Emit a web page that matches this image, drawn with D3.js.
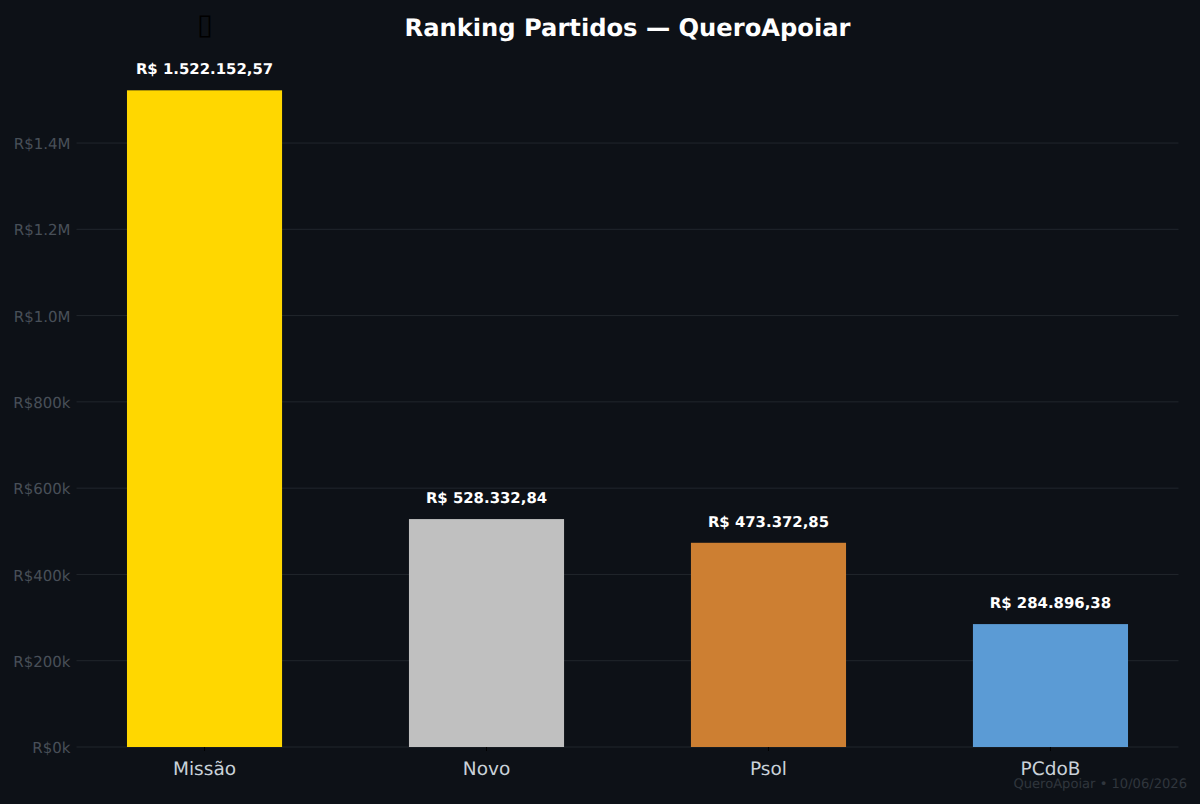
<!DOCTYPE html>
<html>
<head>
<meta charset="utf-8">
<script src="https://cdn.jsdelivr.net/npm/d3@7/dist/d3.min.js"></script>
<style>
html,body{margin:0;padding:0;background:#0d1117;}
svg{display:block;font-family:"DejaVu Sans",sans-serif;text-rendering:geometricPrecision;}
</style>
</head>
<body>
<svg id="chart" width="1200" height="804"></svg>
<script>
const parties = ["Missão", "Novo", "Psol", "PCdoB"];
const totals = [1522152.57, 528332.84, 473372.85, 284896.38];
const valueLabels = ["R$ 1.522.152,57", "R$ 528.332,84", "R$ 473.372,85", "R$ 284.896,38"];
const barColors = ["#FFD700", "#C0C0C0", "#CD7F32", "#5B9BD5"];
const yTicks = [0, 200000, 400000, 600000, 800000, 1000000, 1200000, 1400000];
const yTickLabels = ["R$0k", "R$200k", "R$400k", "R$600k", "R$800k", "R$1.0M", "R$1.2M", "R$1.4M"];
const titleText = "Ranking Partidos — QueroApoiar";
const footerText = "QueroApoiar • 10/06/2026";
const medalGlyph = "\u25AF";

const svg = d3.select("#chart");
const plot = {left: 76.5, right: 1178.5, top: 57.5, bottom: 747};

const x = d3.scaleBand().domain(parties).range([plot.left, plot.right])
  .paddingInner(0.45).paddingOuter(0.179);
const y = d3.scaleLinear().domain([0, 1598260]).range([plot.bottom, plot.top]);

// Horizontal grid
svg.append("g").selectAll("line").data(yTicks).join("line")
  .attr("x1", plot.left).attr("x2", plot.right)
  .attr("y1", d => y(d)).attr("y2", d => y(d))
  .attr("stroke", "#21262d").attr("stroke-width", 1);

// Y axis
const yAxis = d3.axisLeft(y).tickValues(yTicks).tickSize(0).tickPadding(6)
  .tickFormat((d, i) => yTickLabels[i]);
const gy = svg.append("g").attr("transform", `translate(${plot.left},0.8)`).call(yAxis);
gy.select(".domain").remove();
gy.selectAll("text").attr("fill", "#484f58").attr("font-size", 15)
  .attr("font-family", "DejaVu Sans");

// Bars
svg.append("g").selectAll("rect").data(parties).join("rect")
  .attr("x", d => x(d)).attr("width", x.bandwidth())
  .attr("y", (d, i) => y(totals[i]))
  .attr("height", (d, i) => y(0) - y(totals[i]))
  .attr("fill", (d, i) => barColors[i]);

// X axis
const xAxis = d3.axisBottom(x).tickSize(4).tickPadding(11);
const gx = svg.append("g").attr("transform", `translate(0,${plot.bottom})`).call(xAxis);
gx.select(".domain").remove();
gx.selectAll("line").attr("stroke", "#000000");
gx.selectAll("text").attr("fill", "#c9d1d9").attr("font-size", 18.5)
  .attr("font-family", "DejaVu Sans");

// Value labels above the bars
svg.append("g").selectAll("text").data(parties).join("text")
  .attr("x", d => x(d) + x.bandwidth() / 2)
  .attr("y", (d, i) => y(totals[i]) - 16.2)
  .attr("text-anchor", "middle")
  .attr("fill", "#ffffff").attr("font-weight", "bold").attr("font-size", 14.9)
  .text((d, i) => valueLabels[i]);

// Marker over the leading bar
svg.append("text")
  .attr("x", x(parties[0]) + x.bandwidth() / 2 + 0.5).attr("y", 33.5)
  .attr("text-anchor", "middle").attr("fill", "#000000").attr("font-size", 29)
  .text(medalGlyph);

// Title
svg.append("text").attr("x", 627.5).attr("y", 36).attr("text-anchor", "middle")
  .attr("fill", "#ffffff").attr("font-weight", "bold").attr("font-size", 24.2)
  .text(titleText);

// Footer
svg.append("text").attr("x", 1187).attr("y", 788).attr("text-anchor", "end")
  .attr("fill", "#30363d").attr("font-size", 13.1)
  .text(footerText);
</script>
</body>
</html>
